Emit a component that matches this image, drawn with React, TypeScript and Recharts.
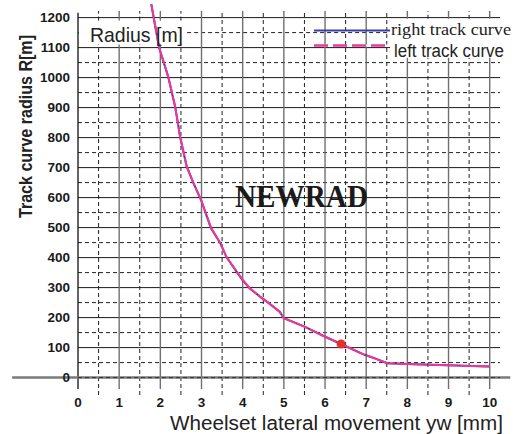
import React from "react";
import {
  LineChart,
  Line,
  XAxis,
  YAxis,
  ReferenceLine,
  ReferenceDot,
} from "recharts";

// wheelset lateral movement yw [mm]
const yw = [
  1.78, 1.85, 1.97, 2.19, 2.36, 2.48, 2.64, 2.8, 2.99, 3.23, 3.45, 3.61, 3.99,
  4.17, 4.42, 4.62, 4.9, 5.0, 5.5, 5.99, 6.39, 6.96, 7.2, 7.51, 8.01, 8.98, 10.0,
];
// track curve radius R [m]
const rightR = [
  1245, 1192, 1100, 1003, 903, 803, 703, 650, 592, 498, 450, 401, 326, 298,
  270, 250, 220, 198, 170, 137, 112, 76, 65, 48, 45, 41, 37,
];
const leftR = [
  1245, 1190, 1100, 1005, 903, 803, 705, 650, 592, 500, 450, 401, 328, 298,
  270, 250, 219, 198, 170, 137, 112, 76, 64, 48, 45, 41, 37,
];

const xTicks = [0, 1, 2, 3, 4, 5, 6, 7, 8, 9, 10];
const xHalf = [0.5, 1.5, 2.5, 3.5, 4.5, 5.5, 6.5, 7.5, 8.5, 9.5];
const yTicks = [0, 100, 200, 300, 400, 500, 600, 700, 800, 900, 1000, 1100, 1200];
const yHalf = [50, 150, 250, 350, 450, 550, 650, 750, 850, 950, 1050, 1150];

// marked operating point
const markYw = 6.39;
const markR = 112;

const rows = yw.map((x, i) => ({ x, right: rightR[i], left: leftR[i] }));

// areas kept clear of grid lines (behind "Radius [m]" and the legend)
const clearBoxes = [
  { x1: 0.02, x2: 2.65, y1: 1110, y2: 1190 },
  { x1: 7.58, x2: 10.5, y1: 1066, y2: 1196 },
];

// split [a, b] so that the gaps are left out
function cut(a: number, b: number, gaps: number[][]) {
  let segs = [[a, b]];
  for (const [g1, g2] of gaps) {
    segs = segs.flatMap(([s, e]) => {
      if (g2 <= s || g1 >= e) return [[s, e]];
      const out: number[][] = [];
      if (g1 > s) out.push([s, g1]);
      if (g2 < e) out.push([g2, e]);
      return out;
    });
  }
  return segs;
}

function hLines(y: number, props: Record<string, unknown>) {
  const gaps = clearBoxes
    .filter((b) => y > b.y1 && y < b.y2)
    .map((b) => [b.x1, b.x2]);
  return cut(0, 10.25, gaps).map(([s, e]) => (
    <ReferenceLine
      key={`h${y}-${s}`}
      segment={[{ x: s, y }, { x: e, y }]}
      ifOverflow="visible"
      {...props}
    />
  ));
}

function vLines(x: number, bottom: number, props: Record<string, unknown>) {
  const gaps = clearBoxes
    .filter((b) => x > b.x1 && x < b.x2)
    .map((b) => [b.y1, b.y2]);
  return cut(bottom, 1222, gaps).map(([s, e]) => (
    <ReferenceLine
      key={`v${x}-${s}`}
      segment={[{ x, y: s }, { x, y: e }]}
      ifOverflow="visible"
      {...props}
    />
  ));
}

const SANS = "'Liberation Sans', Arial, sans-serif";
const SERIF = "'Liberation Serif', 'Times New Roman', serif";

const tickStyle = {
  fill: "#1a1a1a",
  fontSize: 13.5,
  fontWeight: "bold",
  fontFamily: SANS,
};

export default function App() {
  return (
    <div style={{ position: "relative", width: 518, height: 434 }}>
      <style>{"body{margin:0}"}</style>
      <LineChart
        width={518}
        height={434}
        data={rows}
        margin={{ top: 2, right: 18, left: 12, bottom: 0 }}
      >
        <XAxis
          type="number"
          dataKey="x"
          domain={[0, 10.25]}
          ticks={xTicks}
          interval={0}
          height={42}
          axisLine={false}
          tickLine={false}
          tickSize={0}
          tickMargin={5}
          tick={tickStyle}
        />
        <YAxis
          type="number"
          domain={[-48, 1252]}
          ticks={yTicks}
          interval={0}
          width={66}
          axisLine={false}
          tickLine={false}
          tickSize={0}
          tickMargin={8}
          tick={tickStyle}
        />

        {/* grid */}
        {yHalf.flatMap((v) =>
          hLines(v, { stroke: "#222", strokeDasharray: "4 3" })
        )}
        {yTicks.slice(1).flatMap((v) => hLines(v, { stroke: "#1a1a1a" }))}
        {xHalf.flatMap((v) =>
          vLines(v, -58, { stroke: "#222", strokeDasharray: "4 3" })
        )}
        {xTicks.slice(1).flatMap((v) =>
          vLines(v, -38, { stroke: "#707070", strokeWidth: 1.4 })
        )}
        <ReferenceLine
          segment={[{ x: 0, y: -38 }, { x: 0, y: 1216 }]}
          stroke="#111"
          strokeWidth={1.3}
          ifOverflow="visible"
        />
        <ReferenceLine
          segment={[{ x: -1.6, y: 0 }, { x: 10.5, y: 0 }]}
          stroke="#7a7a7a"
          strokeWidth={2.5}
          ifOverflow="visible"
        />
        <ReferenceLine
          segment={[{ x: 0, y: 0 }, { x: 10.25, y: 0 }]}
          stroke="#333"
          strokeDasharray="4 3"
          ifOverflow="visible"
        />

        <Line
          dataKey="right"
          type="linear"
          stroke="#3a3f9f"
          strokeWidth={2}
          dot={false}
          isAnimationActive={false}
        />
        <Line
          dataKey="left"
          type="linear"
          stroke="#f0369a"
          strokeWidth={2}
          strokeDasharray="30 1.5"
          dot={false}
          isAnimationActive={false}
        />
        <ReferenceDot
          x={markYw}
          y={markR}
          r={4.5}
          fill="#e8302a"
          stroke="none"
          ifOverflow="visible"
        />
      </LineChart>

      <svg
        width={518}
        height={434}
        style={{ position: "absolute", left: 0, top: 0, pointerEvents: "none" }}
      >
        {/* legend */}
        <line x1={314} y1={30.5} x2={390} y2={30.5} stroke="#3a3f9f" strokeWidth={2} />
        <line x1={314} y1={45.5} x2={390} y2={45.5} stroke="#fff" strokeWidth={2} />
        <line
          x1={314}
          y1={45.5}
          x2={390}
          y2={45.5}
          stroke="#f0369a"
          strokeWidth={2.5}
          strokeDasharray="14 5"
        />
        <text
          x={391}
          y={35}
          fontFamily={SERIF}
          fontSize={17}
          fill="#222"
          textLength={120}
          lengthAdjust="spacingAndGlyphs"
        >
          right track curve
        </text>
        <text
          x={394}
          y={56.5}
          fontFamily={SANS}
          fontSize={18}
          fill="#222"
          textLength={110}
          lengthAdjust="spacingAndGlyphs"
        >
          left track curve
        </text>

        <text
          x={90}
          y={41.5}
          fontFamily={SANS}
          fontSize={21}
          fill="#222"
          textLength={93}
          lengthAdjust="spacingAndGlyphs"
        >
          Radius [m]
        </text>

        <text
          x={235}
          y={206.5}
          fontFamily={SERIF}
          fontSize={31}
          fontWeight="bold"
          fill="#1a1a1a"
          textLength={133}
          lengthAdjust="spacingAndGlyphs"
        >
          NEWRAD
        </text>

        {/* axis titles */}
        <text
          x={170}
          y={429.5}
          fontFamily={SANS}
          fontSize={20}
          fill="#222"
          textLength={333}
          lengthAdjust="spacingAndGlyphs"
        >
          Wheelset lateral movement yw [mm]
        </text>
        <text
          transform="translate(32,126.5) rotate(-90)"
          textAnchor="middle"
          fontFamily={SANS}
          fontSize={19}
          fontWeight="bold"
          fill="#222"
          textLength={183}
          lengthAdjust="spacingAndGlyphs"
        >
          Track curve radius R[m]
        </text>
      </svg>
    </div>
  );
}
